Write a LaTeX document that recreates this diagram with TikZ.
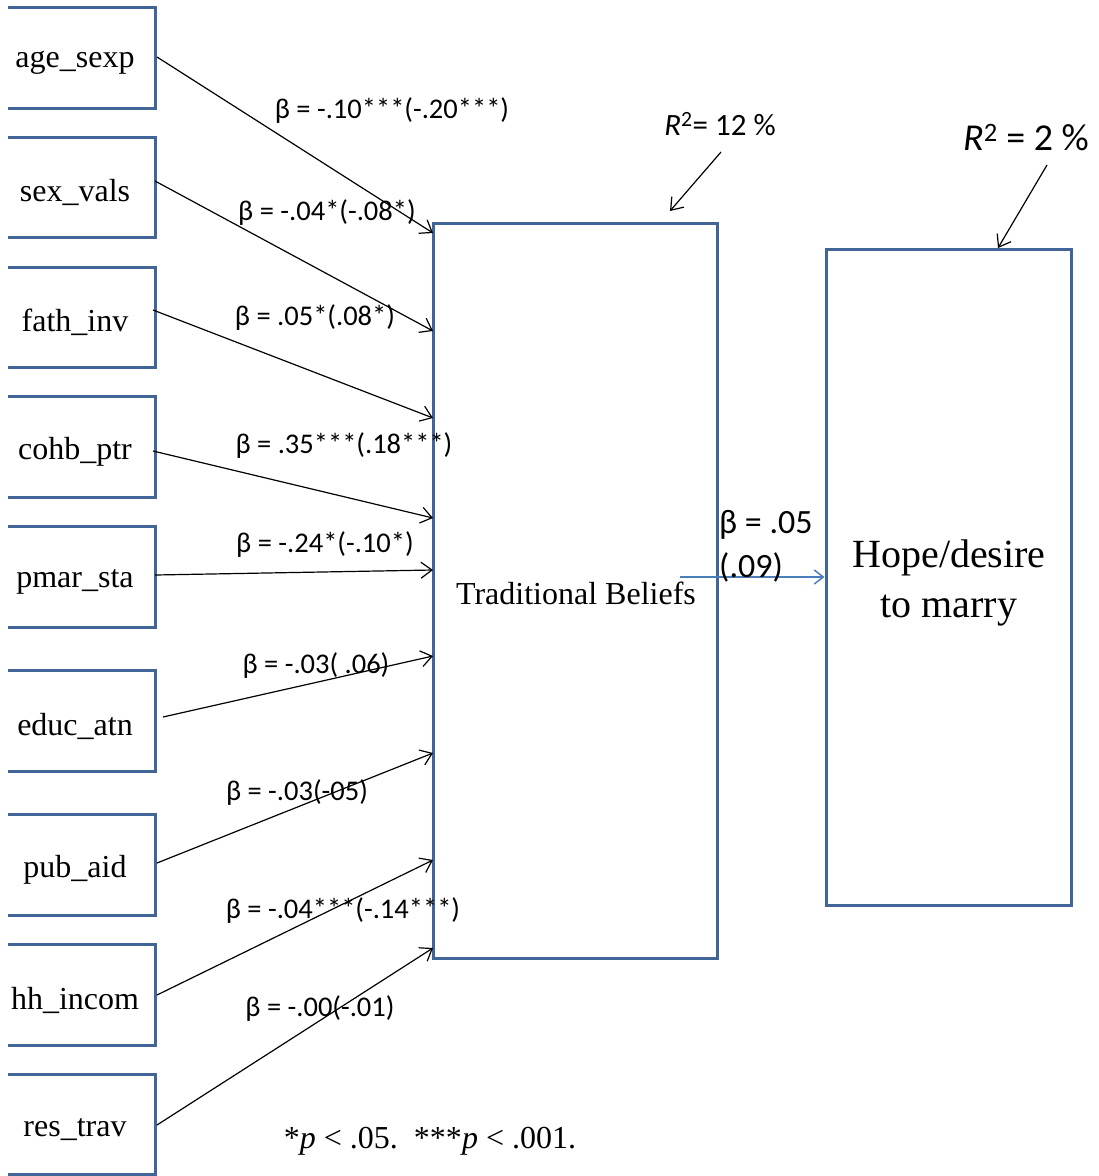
\documentclass[tikz,border=0pt]{standalone}
\usepackage{fontspec}
\setmainfont{Liberation Serif}
\newfontfamily\calib{Carlito}
\usetikzlibrary{arrows.meta}
\definecolor{boxblue}{RGB}{65,101,150}
\definecolor{arrblue}{RGB}{74,126,187}
\tikzset{
  var/.style={minimum width=147pt, minimum height=100pt, inner sep=0pt,
    append after command={\pgfextra{\let\mynode\tikzlastnode}
      (\mynode.north west) edge[draw=boxblue, line width=3pt, line cap=butt, to path={-- (\mynode.north east) -- (\mynode.south east) -- (\mynode.south west)}] (\mynode.south west)}},
  vlab/.style={font=\fontsize{32}{38}\selectfont, inner sep=0pt, xshift=-6.5pt, yshift=-5pt},
  big/.style={draw=boxblue, line width=3pt, inner sep=0pt},
  path/.style={draw=black, line width=1.2pt, -{Straight Barb[length=11pt,width=16pt,line width=1.2pt]}},
  coef/.style={inner sep=0pt, font=\calib\fontsize{28.5}{34}\selectfont},
}
\begin{document}
\begin{tikzpicture}[x=1pt,y=-1pt]
\useasboundingbox (0,0) rectangle (1099,1176);
% left variable boxes
\node[var, label={[vlab]center:age\_sexp}] (v1) at (81.5,58) {};
\node[var, label={[vlab]center:sex\_vals}] (v2) at (81.5,187.5) {};
\node[var, label={[vlab]center:fath\_inv}] (v3) at (81.5,317.5) {};
\node[var, label={[vlab]center:cohb\_ptr}] (v4) at (81.5,447) {};
\node[var, label={[vlab]center:pmar\_sta}] (v5) at (81.5,577) {};
\node[var, label={[vlab]center:educ\_atn}] (v6) at (81.5,721) {};
\node[var, label={[vlab]center:pub\_aid}] (v7) at (81.5,865) {};
\node[var, label={[vlab]center:hh\_incom}] (v8) at (81.5,995) {};
\node[var, label={[vlab]center:res\_trav}] (v9) at (81.5,1124.5) {};
% main boxes
\node[big, minimum width=284pt, minimum height=735pt] (tb) at (575,590.5) {};
\node[font=\fontsize{32}{38}\selectfont, inner sep=0pt] (tbl) at (576,593) {Traditional Beliefs};
\node[big, minimum width=245pt, minimum height=656pt] (hope) at (948.5,577) {};
\node[align=center, inner sep=0pt, font=\fontsize{40}{50}\selectfont] (hopel) at (949,583) {Hope/desire\\to marry};
% target points on the Traditional Beliefs box
\coordinate (t1) at (433,233);
\coordinate (t2) at (433,331);
\coordinate (t3) at (433,418);
\coordinate (t4) at (433,518);
\coordinate (t5) at (433,570);
\coordinate (t6) at (433,656);
\coordinate (t7) at (433,753);
\coordinate (t8) at (433,860);
\coordinate (t9) at (433,948);
\coordinate (s1) at (157,57);
\coordinate (s2) at (155,181);
\coordinate (s3) at (153,310);
\coordinate (s4) at (153,451);
\coordinate (s5) at (155,575);
\coordinate (s6) at (163,717);
\coordinate (s7) at (157,863);
\coordinate (s8) at (157,995);
\coordinate (s9) at (157,1125);
\draw[path] (s1) -- (t1);
\draw[path] (s2) -- (t2);
\draw[path] (s3) -- (t3);
\draw[path] (s4) -- (t4);
\draw[path] (s5) -- (t5);
\draw[path] (s6) -- (t6);
\draw[path] (s7) -- (t7);
\draw[path] (s8) -- (t8);
\draw[path] (s9) -- (t9);
% coefficient labels
\node[coef] (c1) at (392,111) {β = -.10***(-.20***)};
\node[coef] (c2) at (327,213) {β = -.04*(-.08*)};
\node[coef] (c3) at (315,318) {β = .05*(.08*)};
\node[coef] (c4) at (344,446) {β = .35***(.18***)};
\node[coef] (c5) at (325,545) {β = -.24*(-.10*)};
\node[coef] (c6) at (316,666) {β = -.03( .06)};
\node[coef] (c7) at (297,793) {β = -.03(-05)};
\node[coef] (c8) at (343,911) {β = -.04***(-.14***)};
\node[coef] (c9) at (320,1009) {β = -.00(-.01)};
% path to outcome
\coordinate (bs) at (680,577);
\draw[draw=arrblue, line width=1.5pt, -{Straight Barb[length=9pt,width=14pt,line width=1.5pt]}] (bs) -- (hope.west);
\node[coef, font=\calib\fontsize{34}{44}\selectfont, anchor=west, align=left] (c10) at (719,546) {β = .05\\(.09)};
% R squared
\node[coef, font=\calib\fontsize{31}{36}\selectfont] (r1) at (720,124) {\textit{R}\textsuperscript{2}= 12 \%};
\coordinate (r1s) at (721,152);
\coordinate (r1e) at (670,211);
\draw[path] (r1s) -- (r1e);
\node[coef, font=\calib\fontsize{38}{44}\selectfont] (r2) at (1026,138) {\textit{R}\textsuperscript{2} = 2 \%};
\coordinate (r2s) at (1047,165);
\coordinate (r2e) at (998,248);
\draw[path] (r2s) -- (r2e);
% note
\node[inner sep=0pt, font=\fontsize{32}{38}\selectfont] (note) at (430,1141) {*\textit{p} < .05.~~***\textit{p} < .001.};
\end{tikzpicture}
\end{document}
